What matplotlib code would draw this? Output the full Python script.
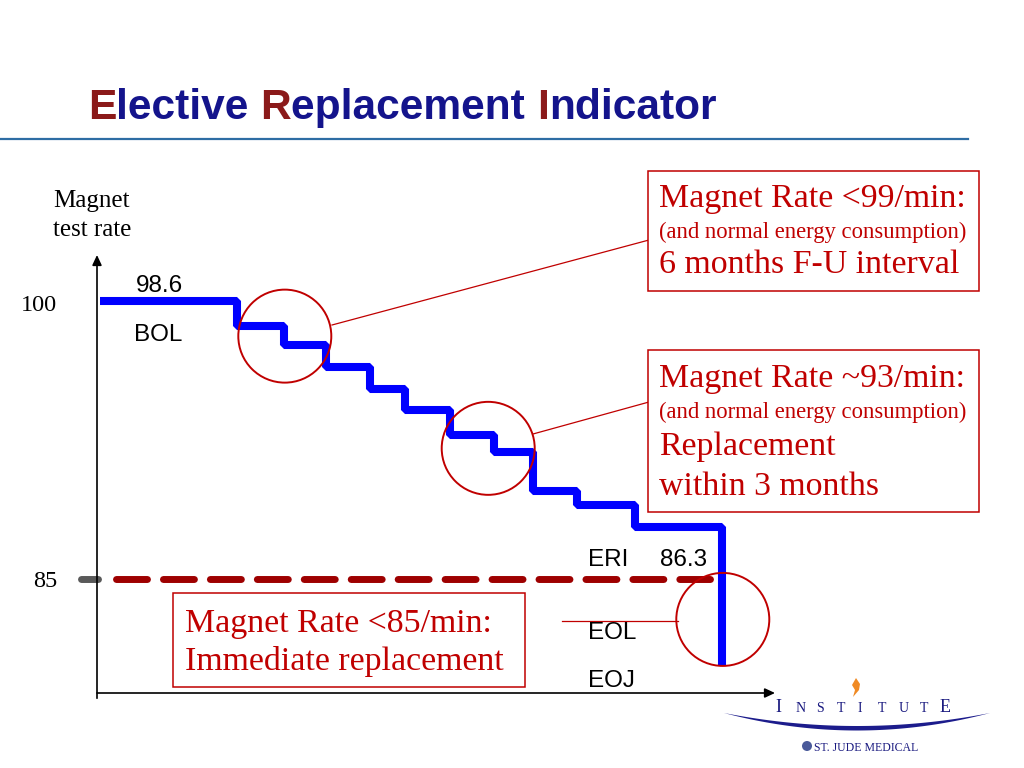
import matplotlib
matplotlib.use('Agg')
import matplotlib.pyplot as plt
from matplotlib.patches import Ellipse, Rectangle, Circle, Polygon
import numpy as np

plt.rcParams['lines.scale_dashes'] = False

W, H = 1024, 768
SERIF = 'Liberation Serif'
SANS = 'Liberation Sans'
RED = '#C00000'
NAVY = '#14148C'
DARKRED = '#8B1A1A'

# ---------------- data ----------------
step_x = [0.4, 20.6, 27.6, 33.8, 40.3, 45.4, 52.1, 58.6, 64.3, 70.8, 79.4, 92.2]
step_rate = [100.1, 98.75, 97.7, 96.5, 95.3, 94.2, 92.8, 91.9, 89.8, 89.0, 87.8]
eoj_rate = 80.3
eri_threshold = 85
threshold_x = [2.8, 90.4]
ytick_vals = [100, 85]
ytick_labels = ['100', '85']
circle_x = [27.7, 57.7, 92.3]
circle_y = [98.2, 92.1, 82.8]
title_parts = [('E', DARKRED), ('lective ', NAVY), ('R', DARKRED),
               ('eplacement ', NAVY), ('I', DARKRED), ('ndicator', NAVY)]
box1_lines = ['Magnet Rate <99/min:', '(and normal energy consumption)', '6 months F-U interval']
box2_lines = ['Magnet Rate ~93/min:', '(and normal energy consumption)', 'Replacement', 'within 3 months']
box3_lines = ['Magnet Rate <85/min:', 'Immediate replacement']

fig = plt.figure(figsize=(W / 100, H / 100), dpi=100)
fig.patch.set_facecolor('white')

# ---------------- data axes ----------------
ax = fig.add_axes([97 / W, 1 - 693 / H, (775 - 97) / W, (693 - 255) / H])
ax.set_xlim(0, 100)
ax.set_ylim(78.8, 102.61)
ax.patch.set_alpha(0)
for s in ax.spines.values():
    s.set_visible(False)
ax.set_xticks([])
ax.set_yticks(ytick_vals)
ax.set_yticklabels(ytick_labels, fontfamily=SERIF, fontsize=17.5)
ax.tick_params(axis='y', length=0, pad=28.5)

# step line
px, py = [], []
for i, lvl in enumerate(step_rate):
    px += [step_x[i], step_x[i + 1]]
    py += [lvl, lvl]
px.append(step_x[-1])
py.append(eoj_rate)
ax.plot(px, py, color='#0000FF', lw=5.8, solid_joinstyle='bevel',
        solid_capstyle='butt', clip_on=False, zorder=3)

# ERI threshold dashed line
ax.plot(threshold_x, [eri_threshold] * 2, color='#9E0000', lw=5,
        dashes=(22.3, 11.5), dash_capstyle='round', zorder=2)
# grey tick at 85
ax.plot([-2.3, 0.1], [eri_threshold] * 2, color='#595959', lw=5,
        solid_capstyle='round', clip_on=False, zorder=2)

# axes arrows
arrow = dict(arrowstyle='-|>,head_length=0.6,head_width=0.28', color='black',
             lw=1.2, shrinkA=0, shrinkB=0)
ax.annotate('', xy=(0, 1), xytext=(0, -0.012), xycoords='axes fraction',
            arrowprops=arrow, annotation_clip=False)
ax.annotate('', xy=(1, 0), xytext=(0, 0), xycoords='axes fraction',
            arrowprops=arrow, annotation_clip=False)

# highlight circles (round in pixels)
ppx = (775 - 97) / 100.0
ppy = (693 - 255) / (102.61 - 78.8)
r = 46.5
for cx, cy in zip(circle_x, circle_y):
    ax.add_patch(Ellipse((cx, cy), 2 * r / ppx, 2 * r / ppy, fill=False,
                         edgecolor=RED, lw=1.4, zorder=5, clip_on=False))

# ---------------- overlay (slide) ----------------
ov = fig.add_axes([0, 0, 1, 1])
ov.set_xlim(0, W)
ov.set_ylim(H, 0)
ov.axis('off')
ov.patch.set_alpha(0)

# title
fig.canvas.draw()
prev = None
for txt, col in title_parts:
    if prev is None:
        prev = ov.text(88, 119, txt, color=col, fontsize=30.6, fontweight='bold',
                       fontfamily=SANS, va='baseline', ha='left')
    else:
        prev = ov.annotate(txt, xy=(1, 0), xycoords=prev, color=col, fontsize=30.6,
                           fontweight='bold', fontfamily=SANS, va='bottom', ha='left')
ov.plot([0, 968], [139, 139], color='#2E6DA4', lw=1.6)

# axis label
ov.text(53, 207, 'Magnet', fontfamily=SERIF, fontsize=18, va='baseline')
ov.text(53, 236, 'test rate', fontfamily=SERIF, fontsize=18, va='baseline')

# black labels
for x, y, s in [(136, 292, '98.6'), (134, 341, 'BOL'), (588, 566, 'ERI'),
                (660, 566, '86.3'), (588, 639, 'EOL'), (588, 687, 'EOJ')]:
    ov.text(x, y, s, fontfamily=SANS, fontsize=17.5, va='baseline', color='black')

# connector lines
for (x0, y0), (x1, y1) in [((332, 325), (649, 240)), ((533, 434), (649, 402)),
                           ((562, 621), (678, 621))]:
    ov.plot([x0, x1], [y0, y1], color=RED, lw=0.9)

# boxes
def box(x0, y0, x1, y1, lines, baselines, sizes, tx):
    ov.add_patch(Rectangle((x0, y0), x1 - x0, y1 - y0, facecolor='white',
                           edgecolor=RED, lw=1.1, zorder=4))
    for s, b, fs in zip(lines, baselines, sizes):
        ov.text(tx, b, s, fontfamily=SERIF, fontsize=fs, color=RED,
                va='baseline', ha='left', zorder=5)

BIG, SMALL = 24.4, 16.3
box(648, 171, 979, 291, box1_lines, [207, 238, 273], [BIG, SMALL, BIG], 659)
box(648, 350, 979, 512, box2_lines, [387, 418, 455, 495], [BIG, SMALL, BIG, BIG], 659)
box(173, 593, 525, 687, box3_lines, [632, 670], [BIG, BIG], 185)

# ---------------- logo ----------------
letters = list('INSTITUTE')
lx = np.linspace(775, 940, len(letters))
for i, (ch, x) in enumerate(zip(letters, lx)):
    fs = 13 if i in (0, len(letters) - 1) else 10
    ov.text(x, 712, ch, fontfamily=SERIF, fontsize=fs, color='#1A1A80',
            va='baseline', ha='left')
ov.add_patch(Polygon([(856, 678), (860, 684), (859, 690), (853, 697),
                      (855, 690), (852, 685)], closed=True,
                     facecolor='#F08A24', edgecolor='none'))
xs = np.linspace(724, 990, 120)
t = (xs - 857) / 133.0
top = 713 + 13 * (1 - t ** 2)
bot = top + 4.5 * (1 - t ** 2)
ov.add_patch(Polygon(np.column_stack([np.r_[xs, xs[::-1]], np.r_[top, bot[::-1]]]),
                     closed=True, facecolor='#1C1C8C', edgecolor='none'))
ov.add_patch(Circle((807, 746), 5, facecolor='#4A5A9A', edgecolor='none'))
ov.text(814, 751, 'ST. JUDE MEDICAL', fontfamily=SERIF, fontsize=8.5,
        color='#1A1A80', va='baseline', ha='left')

fig.savefig('out.png', dpi=100, facecolor='white')
